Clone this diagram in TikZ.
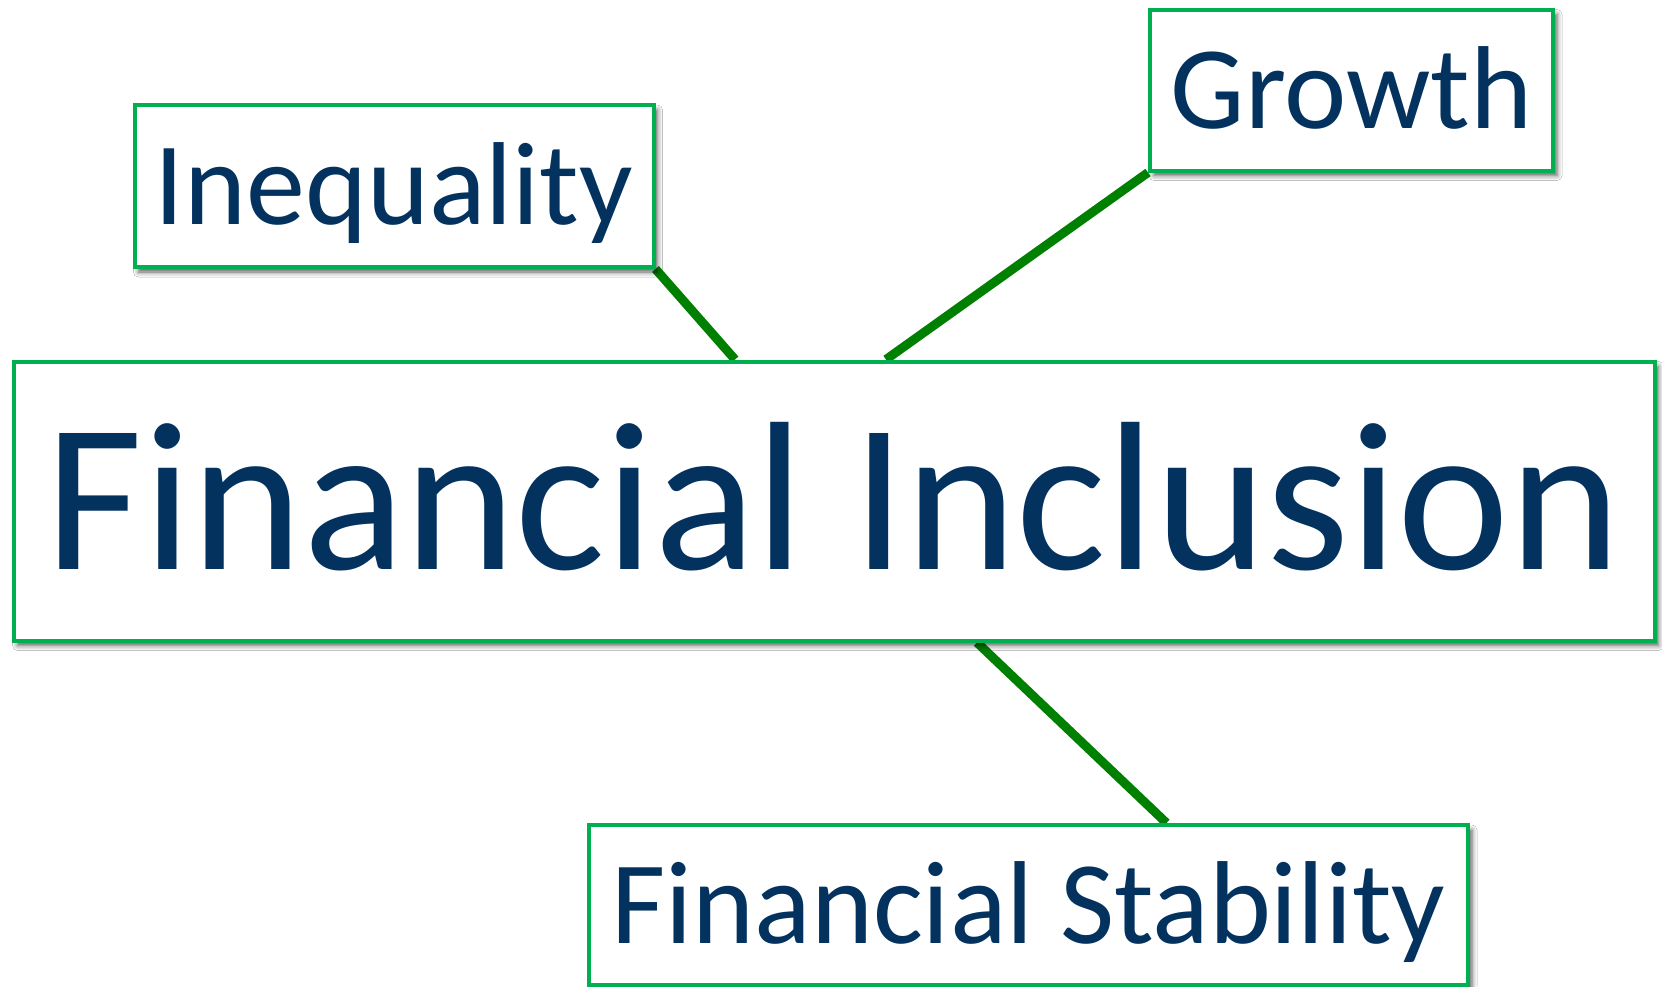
\documentclass[tikz,border=0pt]{standalone}
\usepackage{fontspec}
\setmainfont{Carlito}
\usetikzlibrary{shadows.blur,backgrounds}
\definecolor{navy}{HTML}{03325F}
\definecolor{boxgreen}{HTML}{00B050}
\definecolor{linkgreen}{HTML}{008000}
\tikzset{
  topic/.style={draw=boxgreen, line width=4pt, fill=white, inner sep=0pt,
    text=navy, align=center, text depth=0pt,
    blur shadow={shadow xshift=4pt, shadow yshift=-5pt, shadow blur radius=5pt, shadow opacity=65}},
  link/.style={draw=linkgreen, line width=9pt}
}
\begin{document}
\begin{tikzpicture}[x=1pt, y=-1pt]
  \useasboundingbox (0,0) rectangle (1662,986);
  % central concept
  \node[topic, minimum width=1641pt, minimum height=279pt, text height=136pt,
        font=\fontsize{212}{212}\selectfont] (main) at (834,501) {Financial Inclusion};
  % surrounding concepts
  \node[topic, minimum width=519pt, minimum height=162pt, text height=76pt,
        font=\fontsize{118}{118}\selectfont] (ineq) at (394,186) {Inequality};
  \node[topic, minimum width=403pt, minimum height=161pt, text height=76pt,
        font=\fontsize{118}{118}\selectfont] (grow) at (1351.5,90) {Growth};
  \node[topic, minimum width=879pt, minimum height=160pt, text height=76pt,
        font=\fontsize{118}{118}\selectfont] (fs) at (1028.5,905) {Financial Stability};
  % white page and connectors behind the boxes
  \begin{pgfonlayer}{background}
    \fill[white] (0,0) rectangle (1662,986);
    \draw[link] (ineq.south east) -- ([xshift=-99pt]main.north);
    \draw[link] (grow.south west) -- ([xshift=52pt]main.north);
    \draw[link] ([xshift=143pt]main.south) -- ([xshift=138pt]fs.north);
  \end{pgfonlayer}
\end{tikzpicture}
\end{document}
